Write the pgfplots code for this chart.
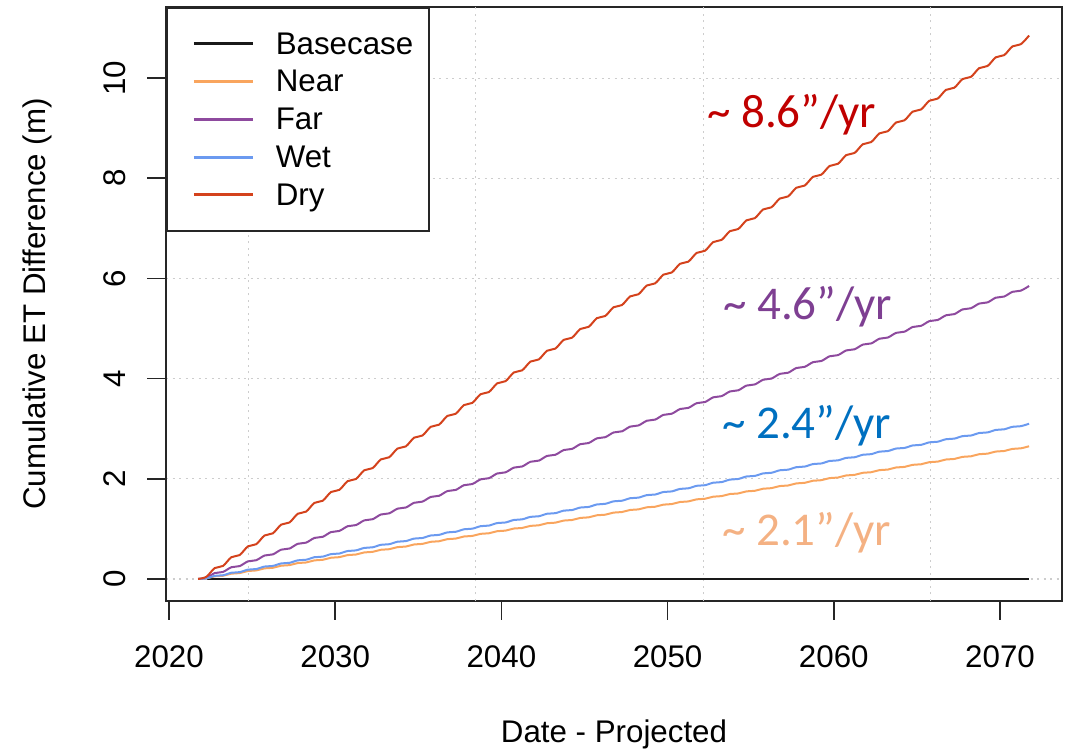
\documentclass[border=0pt]{standalone}
\usepackage{pgfplots}
\pgfplotsset{compat=1.18}
\usepackage{pgfplotstable}
\usepackage{fontspec}
\setmainfont{Liberation Sans}
\newfontfamily\calib{Carlito}
\definecolor{cNear}{RGB}{249,165,94}
\definecolor{cFar}{RGB}{142,74,158}
\definecolor{cWet}{RGB}{107,154,240}
\definecolor{cDry}{RGB}{212,66,28}
\definecolor{cBase}{RGB}{25,25,25}
\definecolor{tDry}{RGB}{192,0,0}
\definecolor{tFar}{RGB}{126,63,146}
\definecolor{tWet}{RGB}{0,112,192}
\definecolor{tNear}{RGB}{244,177,131}
\definecolor{gridc}{RGB}{205,205,205}

\pgfplotstableread{
t near far wet dry
2021.75 0 0 0 0
2022.25 0.011 0.023 0.012 0.043
2022.75 0.053 0.117 0.062 0.217
2023.25 0.064 0.140 0.074 0.260
2023.75 0.106 0.234 0.124 0.434
2024.25 0.117 0.257 0.136 0.477
2024.75 0.159 0.351 0.186 0.651
2025.25 0.170 0.374 0.198 0.694
2025.75 0.212 0.468 0.248 0.868
2026.25 0.223 0.491 0.260 0.911
2026.75 0.265 0.585 0.310 1.085
2027.25 0.276 0.608 0.322 1.128
2027.75 0.318 0.702 0.372 1.302
2028.25 0.329 0.725 0.384 1.345
2028.75 0.371 0.819 0.434 1.519
2029.25 0.382 0.842 0.446 1.562
2029.75 0.424 0.936 0.496 1.736
2030.25 0.435 0.959 0.508 1.779
2030.75 0.477 1.053 0.558 1.953
2031.25 0.488 1.076 0.570 1.996
2031.75 0.530 1.170 0.620 2.170
2032.25 0.541 1.193 0.632 2.213
2032.75 0.583 1.287 0.682 2.387
2033.25 0.594 1.310 0.694 2.430
2033.75 0.636 1.404 0.744 2.604
2034.25 0.647 1.427 0.756 2.647
2034.75 0.689 1.521 0.806 2.821
2035.25 0.700 1.544 0.818 2.864
2035.75 0.742 1.638 0.868 3.038
2036.25 0.753 1.661 0.880 3.081
2036.75 0.795 1.755 0.930 3.255
2037.25 0.806 1.778 0.942 3.298
2037.75 0.848 1.872 0.992 3.472
2038.25 0.859 1.895 1.004 3.515
2038.75 0.901 1.989 1.054 3.689
2039.25 0.912 2.012 1.066 3.732
2039.75 0.954 2.106 1.116 3.906
2040.25 0.965 2.129 1.128 3.949
2040.75 1.007 2.223 1.178 4.123
2041.25 1.018 2.246 1.190 4.166
2041.75 1.060 2.340 1.240 4.340
2042.25 1.071 2.363 1.252 4.383
2042.75 1.113 2.457 1.302 4.557
2043.25 1.124 2.480 1.314 4.600
2043.75 1.166 2.574 1.364 4.774
2044.25 1.177 2.597 1.376 4.817
2044.75 1.219 2.691 1.426 4.991
2045.25 1.230 2.714 1.438 5.034
2045.75 1.272 2.808 1.488 5.208
2046.25 1.283 2.831 1.500 5.251
2046.75 1.325 2.925 1.550 5.425
2047.25 1.336 2.948 1.562 5.468
2047.75 1.378 3.042 1.612 5.642
2048.25 1.389 3.065 1.624 5.685
2048.75 1.431 3.159 1.674 5.859
2049.25 1.442 3.182 1.686 5.902
2049.75 1.484 3.276 1.736 6.076
2050.25 1.495 3.299 1.748 6.119
2050.75 1.537 3.393 1.798 6.293
2051.25 1.548 3.416 1.810 6.336
2051.75 1.590 3.510 1.860 6.510
2052.25 1.601 3.533 1.872 6.553
2052.75 1.643 3.627 1.922 6.727
2053.25 1.654 3.650 1.934 6.770
2053.75 1.696 3.744 1.984 6.944
2054.25 1.707 3.767 1.996 6.987
2054.75 1.749 3.861 2.046 7.161
2055.25 1.760 3.884 2.058 7.204
2055.75 1.802 3.978 2.108 7.378
2056.25 1.813 4.001 2.120 7.421
2056.75 1.855 4.095 2.170 7.595
2057.25 1.866 4.118 2.182 7.638
2057.75 1.908 4.212 2.232 7.812
2058.25 1.919 4.235 2.244 7.855
2058.75 1.961 4.329 2.294 8.029
2059.25 1.972 4.352 2.306 8.072
2059.75 2.014 4.446 2.356 8.246
2060.25 2.025 4.469 2.368 8.289
2060.75 2.067 4.563 2.418 8.463
2061.25 2.078 4.586 2.430 8.506
2061.75 2.120 4.680 2.480 8.680
2062.25 2.131 4.703 2.492 8.723
2062.75 2.173 4.797 2.542 8.897
2063.25 2.184 4.820 2.554 8.940
2063.75 2.226 4.914 2.604 9.114
2064.25 2.237 4.937 2.616 9.157
2064.75 2.279 5.031 2.666 9.331
2065.25 2.290 5.054 2.678 9.374
2065.75 2.332 5.148 2.728 9.548
2066.25 2.343 5.171 2.740 9.591
2066.75 2.385 5.265 2.790 9.765
2067.25 2.396 5.288 2.802 9.808
2067.75 2.438 5.382 2.852 9.982
2068.25 2.449 5.405 2.864 10.025
2068.75 2.491 5.499 2.914 10.199
2069.25 2.502 5.522 2.926 10.242
2069.75 2.544 5.616 2.976 10.416
2070.25 2.555 5.639 2.988 10.459
2070.75 2.597 5.733 3.038 10.633
2071.25 2.608 5.756 3.050 10.676
2071.75 2.650 5.850 3.100 10.850
}\etdata

\begin{document}
\begin{tikzpicture}
\path[use as bounding box] (0,0) rectangle (1071pt,755pt);
\begin{axis}[
  at={(166pt,154pt)}, anchor=south west,
  scale only axis, width=896pt, height=594pt,
  xmin=2019.82, xmax=2073.73, ymin=-0.44, ymax=11.42,
  xtick={2020,2030,2040,2050,2060,2070},
  ytick={0,2,4,6,8,10},
  tick pos=left, tick align=outside,
  major tick length=19pt,
  tick style={line width=1.6pt, black!85},
  axis line style={line width=1.6pt, black!85},
  /pgf/number format/assume math mode=true,
  /pgf/number format/1000 sep={},
  tick label style={font=\fontsize{31.3}{36}\selectfont},
  label style={font=\fontsize{31.3}{36}\selectfont},
  xticklabel style={anchor=base, inner sep=0pt, yshift=-48pt},
  yticklabel style={anchor=south, inner sep=0pt, xshift=-21pt, rotate=90},
  ymajorgrids,
  grid style={gridc, line width=1.2pt, dash pattern=on 2pt off 4.5pt},
  extra x ticks={2024.76,2038.45,2052.14,2065.83},
  extra x tick labels={},
  extra x tick style={grid=major, major tick length=0pt, tick style={draw=none}},
  xlabel={Date - Projected},
  ylabel={Cumulative ET Difference (m)},
  xlabel style={at={(axis description cs:0.5,-0.2374)}, anchor=base},
  ylabel style={at={(axis description cs:-0.134,0.5)}, anchor=base},
  legend style={at={(0,1)}, anchor=north west, draw=black!85, line width=1.6pt,
    fill=white, inner xsep=16pt, inner ysep=17pt, row sep=0pt,
    font=\fontsize{31.3}{36}\selectfont,
    nodes={inner xsep=0pt, inner ysep=5.4pt, text height=24pt, text depth=3pt}},
  legend cell align=left,
  legend image code/.code={\path[draw=none, fill=none] (0pt,0pt) -- (93pt,0pt);
    \draw[#1, line width=3pt] (11pt,0pt) -- (70pt,0pt);},
]
\addplot[cBase, line width=2.2pt] coordinates {(2022.3,0) (2071.75,0)};
\addlegendentry{Basecase}
\addplot[cNear, line width=2pt, smooth, tension=0.5] table[x=t, y=near] {\etdata};
\addlegendentry{Near}
\addplot[cFar, line width=2pt, smooth, tension=0.5] table[x=t, y=far] {\etdata};
\addlegendentry{Far}
\addplot[cWet, line width=2pt, smooth, tension=0.5] table[x=t, y=wet] {\etdata};
\addlegendentry{Wet}
\addplot[cDry, line width=2pt, smooth, tension=0.5] table[x=t, y=dry] {\etdata};
\addlegendentry{Dry}
\node[anchor=base west, inner sep=0pt, text=tDry, font=\calib\fontsize{47}{47}\selectfont] at (axis cs:2052.37,9.004) {\textasciitilde{} 8.6”/yr};
\node[anchor=base west, inner sep=0pt, text=tFar, font=\calib\fontsize{47}{47}\selectfont] at (axis cs:2053.33,5.19) {\textasciitilde{} 4.6”/yr};
\node[anchor=base west, inner sep=0pt, text=tWet, font=\calib\fontsize{47}{47}\selectfont] at (axis cs:2053.27,2.795) {\textasciitilde{} 2.4”/yr};
\node[anchor=base west, inner sep=0pt, text=tNear, font=\calib\fontsize{47}{47}\selectfont] at (axis cs:2053.27,0.678) {\textasciitilde{} 2.1”/yr};
\end{axis}
\end{tikzpicture}
\end{document}
